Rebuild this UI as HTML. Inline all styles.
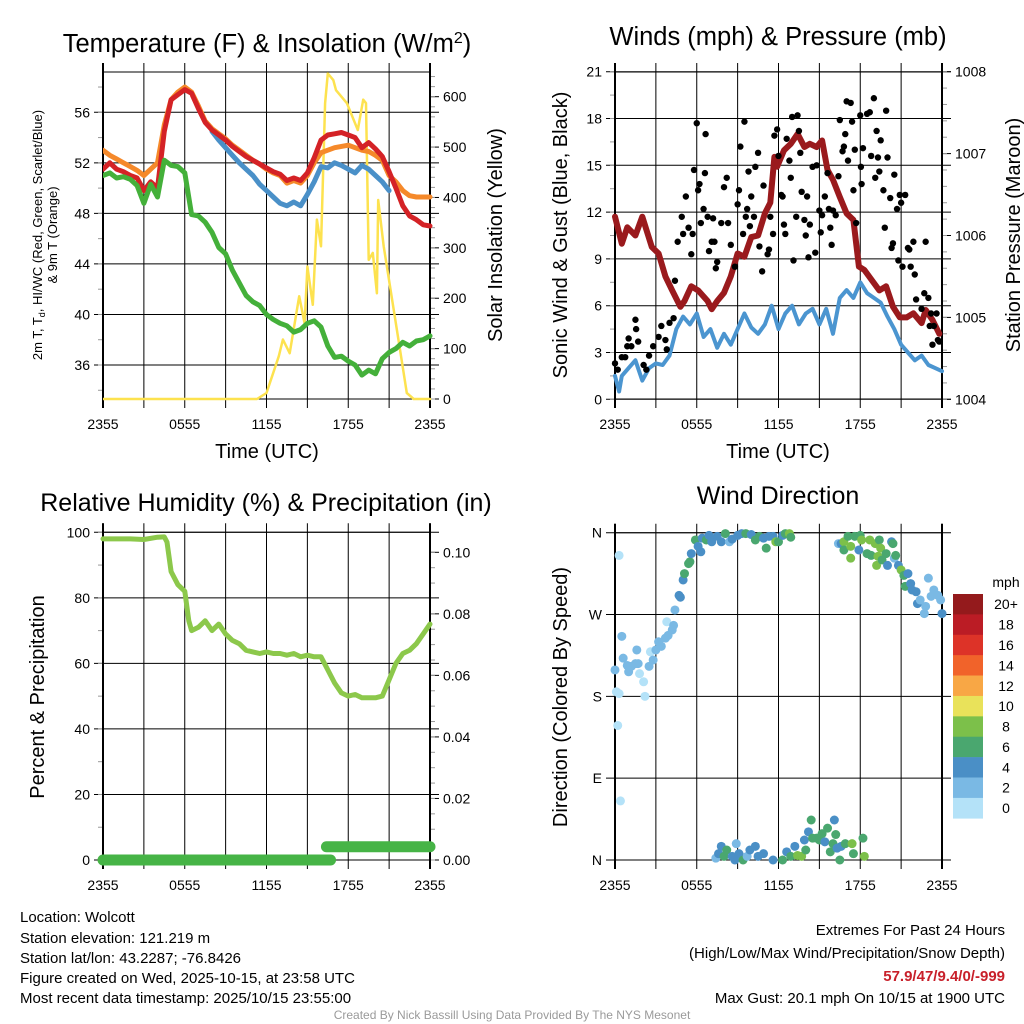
<!DOCTYPE html>
<html><head><meta charset="utf-8">
<style>
html,body{margin:0;padding:0;background:#fff;}
svg{display:block;font-family:"Liberation Sans",Arial,sans-serif;}
</style></head>
<body>
<svg id="chart" width="1024" height="1024" viewBox="0 0 1024 1024" xmlns="http://www.w3.org/2000/svg">
<g id="p1"></g>
<g id="p2"></g>
<g id="p3"></g>
<g id="p4"></g>

<text x="267" y="52" font-size="25.5" text-anchor="middle">Temperature (F) &amp; Insolation (W/m<tspan dy="-9" font-size="16">2</tspan><tspan dy="9">)</tspan></text>
<text x="778" y="45" font-size="25.5" text-anchor="middle">Winds (mph) &amp; Pressure (mb)</text>
<text x="266" y="511" font-size="25" text-anchor="middle">Relative Humidity (%) &amp; Precipitation (in)</text>
<text x="778" y="504" font-size="25" text-anchor="middle">Wind Direction</text>

<text transform="translate(42,235) rotate(-90)" font-size="13" text-anchor="middle">2m T, T<tspan font-size="9" dy="3">d</tspan><tspan dy="-3">, HI/WC (Red, Green, Scarlet/Blue)</tspan></text>
<text transform="translate(57,235) rotate(-90)" font-size="13" text-anchor="middle">&amp; 9m T (Orange)</text>
<text transform="translate(502,235) rotate(-90)" font-size="20" text-anchor="middle">Solar Insolation (Yellow)</text>
<text x="267" y="458" font-size="20" text-anchor="middle">Time (UTC)</text>
<text transform="translate(567,235) rotate(-90)" font-size="20" text-anchor="middle">Sonic Wind &amp; Gust (Blue, Black)</text>
<text transform="translate(1020,235) rotate(-90)" font-size="20" text-anchor="middle">Station Pressure (Maroon)</text>
<text x="778" y="458" font-size="20" text-anchor="middle">Time (UTC)</text>
<text transform="translate(44,697) rotate(-90)" font-size="20" text-anchor="middle">Percent &amp; Precipitation</text>
<text transform="translate(567,697) rotate(-90)" font-size="20" text-anchor="middle">Direction (Colored By Speed)</text>

<g font-size="15">
<text x="20" y="922">Location: Wolcott</text>
<text x="20" y="943">Station elevation: 121.219 m</text>
<text x="20" y="963">Station lat/lon: 43.2287; -76.8426</text>
<text x="20" y="983">Figure created on Wed, 2025-10-15, at 23:58 UTC</text>
<text x="20" y="1003">Most recent data timestamp: 2025/10/15 23:55:00</text>
</g>
<g font-size="15" text-anchor="end">
<text x="1005" y="935">Extremes For Past 24 Hours</text>
<text x="1005" y="958">(High/Low/Max Wind/Precipitation/Snow Depth)</text>
<text x="1005" y="981" fill="#c8202a" font-weight="bold">57.9/47/9.4/0/-999</text>
<text x="1005" y="1003">Max Gust: 20.1 mph On 10/15 at 1900 UTC</text>
</g>
<text x="512" y="1019" font-size="12" fill="#9a9a9a" text-anchor="middle">Created By Nick Bassill Using Data Provided By The NYS Mesonet</text>
</svg>
<script>
// ---------- data ----------
const timeTicks = ["2355","0555","1155","1755","2355"];
const hoursHalf = [0,0.5,1,1.5,2,2.5,3,3.5,4,4.5,5,5.5,6,6.5,7,7.5,8,8.5,9,9.5,10,10.5,11,11.5,12,12.5,13,13.5,14,14.5,15,15.5,16,16.5,17,17.5,18,18.5,19,19.5,20,20.5,21,21.5,22,22.5,23,23.5,24];
const tempRed = [51.5,52,51.5,51.3,51,50.8,49.8,50.5,50,54.5,57,57.4,57.8,57.5,56.3,55.2,54.6,54.2,53.8,53.3,52.9,52.5,52.2,51.9,51.6,51.3,51.1,50.6,50.8,50.6,51.2,52.4,53.8,54.2,54.3,54.4,54.2,54.0,53.2,53.6,53.1,52.5,51.3,50.0,48.6,47.8,47.5,47.1,47.0];
const tempOrange = [53,52.6,52.3,52,51.7,51.4,51,51.5,52,55,57,57.6,58,57.6,56.5,55.3,54.7,54.3,53.9,53.4,53.0,52.6,52.2,51.9,51.5,51.2,51.0,50.4,50.6,50.4,51.0,52.0,52.8,53.0,53.2,53.3,53.4,53.2,53.0,52.9,52.6,52.2,51.0,50.5,49.8,49.4,49.3,49.3,49.3];
const tempGreen = [51,51.2,50.8,50.9,50.7,50.2,48.8,50.3,49.3,52.2,51.8,51.7,51.2,47.9,47.8,47.3,46.5,45.3,44.8,43.5,42.5,41.5,41.0,40.7,40.0,39.6,39.3,39.1,38.6,38.8,39.3,39.5,39.0,37.5,36.6,36.7,36.3,36.0,35.2,35.6,35.3,36.5,37.0,37.3,37.8,37.5,37.9,38.0,38.3];
const blueHours = [8,8.5,9,9.5,10,10.5,11,11.5,12,12.5,13,13.5,14,14.5,15,15.5,16,16.5,17,17.5,18,18.5,19,19.5,20,20.5,21];
const tempBlue = [54.5,53.8,53.2,52.6,52.0,51.5,51.0,50.3,49.8,49.3,48.8,48.6,48.9,48.6,49.5,50.5,51.7,51.6,52.0,51.8,51.5,51.2,51.8,51.5,51.0,50.5,49.8];
const solarHours = [0,11.3,12,12.9,13.2,13.7,14.4,14.8,15,15.4,15.7,16,16.3,16.5,16.9,17.1,17.9,18.7,19.1,19.3,19.5,19.8,20.1,20.2,20.6,21.8,22.3,22.8,24];
const solarValues = [0,0,12,85,118,91,204,150,263,187,356,303,587,646,633,613,587,534,594,587,276,290,210,395,303,98,12,0,0];

const pressHours = [0,0.5,0.9,1.5,2,2.7,3.2,3.7,4.2,4.8,5.1,5.6,6.1,6.8,7.1,7.5,8,8.5,9,9.5,10,10.5,11,11.4,11.7,11.9,12.4,12.9,13.4,13.9,14.3,14.8,15.2,15.6,16,16.5,17,17.5,17.9,18.3,19,19.4,19.9,20.4,20.9,21.4,21.9,22.5,22.8,23.3,23.8];
const pressValues = [1006.23,1005.9,1006.1,1006.0,1006.23,1005.86,1005.78,1005.5,1005.33,1005.13,1005.2,1005.38,1005.33,1005.2,1005.1,1005.2,1005.3,1005.5,1005.78,1005.74,1005.98,1006.0,1006.27,1006.4,1006.96,1006.84,1007.04,1007.12,1007.24,1007.08,1007.12,1007.08,1007.16,1006.8,1006.68,1006.47,1006.27,1006.19,1005.62,1005.58,1005.42,1005.33,1005.38,1005.13,1005.0,1005.0,1005.05,1004.93,1005.09,1004.97,1004.8];
const windHours = [0,0.3,0.5,1,1.5,2,2.5,3,3.5,4,4.5,5,5.5,6,6.5,7,7.5,8,8.5,9,9.5,10,10.5,11,11.5,12,12.5,13,13.5,14,14.5,15,15.5,16,16.5,17,17.5,18,18.5,19,19.5,20,20.5,21,21.5,22,22.5,23,23.5,24];
const windValues = [1.5,0.5,1.5,2,2.5,1.2,2.0,2.3,2.2,2.8,4.5,5.3,4.8,5.5,4.0,4.5,3.3,4.2,3.5,4.5,5.5,4.6,4.2,4.8,6.0,4.5,5.5,6.0,4.8,5.5,5.8,4.8,5.8,4.2,6.5,7.0,6.5,7.5,6.8,6.5,6.2,5.3,4.5,3.5,3.0,2.5,2.8,2.2,2.0,1.8];
const gustHours = [0,.2,.5,.75,.9,1,1.2,1.5,1.55,1.7,2.1,2.3,2.5,2.8,3.2,3.4,3.7,3.8,4.0,4.3,4.4,4.6,4.9,5.0,5.2,5.4,5.6,5.7,5.8,6.0,6.1,6.2,6.3,6.5,6.6,6.65,6.8,6.9,7.1,7.2,7.3,7.4,7.5,7.8,8.0,8.2,8.3,8.5,8.8,9.0,9.1,9.2,9.4,9.5,9.6,9.7,9.8,9.9,10.0,10.2,10.3,10.5,10.6,10.8,10.9,11.2,11.3,11.4,11.6,11.7,11.9,12.0,12.2,12.3,12.4,12.5,12.6,12.8,12.9,13.0,13.1,13.3,13.4,13.5,13.6,13.7,13.9,14.0,14.1,14.2,14.3,14.5,14.7,14.8,15.0,15.1,15.2,15.4,15.6,15.7,15.8,15.9,16.0,16.2,16.4,16.5,16.7,16.8,16.9,17.0,17.1,17.3,17.4,17.5,17.6,17.7,18.0,18.05,18.1,18.2,18.5,18.7,18.8,19.0,19.1,19.2,19.3,19.4,19.5,19.7,19.8,19.9,20.0,20.2,20.3,20.4,20.5,20.7,20.8,20.9,21.0,21.1,21.3,21.5,21.6,21.7,21.9,22.0,22.1,22.5,22.7,22.8,23.0,23.1,23.2,23.3,23.4,23.6,23.7,23.8];
const gustValues = [2.3,1.9,2.7,2.7,3.4,3.9,3.4,5.1,4.5,3.7,2.2,1.9,2.8,3.4,4.0,4.7,3.8,3.2,4.9,5.2,7.6,10.1,11.7,10.6,13.0,11.0,9.3,10.6,14.7,17.7,13.4,13.8,11.3,12.2,14.5,17.0,11.7,9.5,10.1,11.6,10.1,8.4,8.8,11.3,13.6,14.2,11.3,9.9,8.5,12.5,13.4,16.2,10.6,17.8,11.7,12.2,14.6,11.1,13.0,11.7,14.9,15.8,9.8,8.2,13.7,9.3,9.6,11.7,10.6,16.9,17.3,15.6,13.1,13.0,11.2,10.6,16.7,15.3,14.2,18.1,8.9,11.7,18.2,17.2,15.8,13.3,11.5,10.5,13.0,9.1,11.2,14.9,9.4,15.0,12.1,10.7,11.8,13.0,14.5,12.2,11.0,9.9,12.1,11.8,14.3,17.9,15.9,16.2,17.0,19.1,15.3,19.0,17.8,13.4,16.0,11.3,18.2,14.9,13.8,16.1,18.3,18.4,15.6,19.3,14.2,17.2,15.5,14.6,16.6,13.4,11.0,18.5,15.5,12.9,9.7,10.0,14.4,12.2,8.9,13.1,12.6,8.5,13.1,9.7,9.6,8.5,10.1,8.0,6.4,5.8,6.8,10.1,6.5,4.7,5.5,3.5,4.7,5.5,3.8,3.7];

const rhHours = [0,1,2,3,4,4.5,4.7,5,5.5,6,6.3,6.5,7,7.5,8,8.5,9,9.5,10,10.5,11,11.5,12,12.5,13,13.5,14,14.5,15,15.5,16,16.5,17,17.5,18,18.5,19,20,20.5,21,21.5,22,22.5,23,23.5,24];
const rhValues = [98,98,98,97.8,98.5,98.6,97,88,84,82,73,70,71,73,70,72,69,67,66,64,63.5,63,63.5,63,63,62.5,63,62,62.5,62,62,58,54,51,50,50.5,49.5,49.5,50,55,60,63,64,66,69,72];
const precipStart = [0,16.4];
const precipEnd = [16.7,24];
const precipValues = [0,0.0043];

const dirHours = [0.3,0.5,0,0.1,0.3,0.2,0.4,0.6,0.9,1.0,1.2,1.5,1.6,1.7,1.8,2.1,2.2,2.5,2.6,2.8,3.0,3.2,3.4,3.7,3.8,3.9,4.2,4.3,4.4,4.7,4.8,5.0,5.1,5.4,5.5,5.6,5.9,6.1,6.3,6.4,6.7,6.9,7.1,7.5,7.8,8.1,8.4,8.6,9.0,9.3,9.6,10.0,10.3,10.6,10.9,11.1,11.3,11.6,11.8,12.0,12.3,12.5,12.8,12.9,
16.4,16.6,16.8,16.8,17.1,17.3,17.3,17.6,17.9,18.0,18.1,18.5,18.7,18.8,19.1,19.2,19.3,19.4,19.5,19.6,19.9,20.0,20.3,20.4,20.5,20.6,20.8,21.0,21.2,21.3,21.5,21.7,21.8,22.1,22.2,22.4,22.7,22.8,23.0,23.2,23.4,23.7,23.9,24,
7.4,7.6,7.8,8.0,8.2,8.6,8.8,8.9,9.1,9.4,9.7,9.9,10.3,10.5,10.9,11.6,12.3,12.6,12.9,13.2,13.4,13.7,13.9,14.0,14.2,14.4,14.5,14.8,15.0,15.2,15.4,15.6,15.8,16.0,16.1,16.2,16.3,16.5,16.6,16.9,17.4,17.5,18.2,18.3];
const dirDegrees = [335,246,209,185,183,148,65,222,214,207,213,216,231,216,205,196,180,213,229,220,231,240,235,244,262,247,253,258,275,291,289,308,315,326,328,337,352,345,339,354,352,357,350,356,350,359,350,353,357,359,359,358,352,356,354,343,356,356,350,350,357,359,359,355,
348,348,350,341,356,345,332,356,341,357,352,337,352,335,348,324,334,352,343,330,337,324,350,348,332,335,324,319,313,301,315,304,297,295,282,286,271,279,310,290,297,291,286,271,
2,7,15,4,11,4,0,18,7,0,4,11,15,4,7,0,0,9,4,15,5,4,22,11,31,44,24,24,22,29,20,35,9,18,44,28,13,0,15,18,18,7,24,4];
const dirSpeeds = [1,3,3,1,1,1,1,3,3,3,3,3,3,3,1,1,1,3,1,3,3,3,3,3,1,3,3,3,3,5,5,5,7,7,7,5,7,5,5,5,7,5,5,5,5,7,3,5,5,5,7,5,7,7,5,7,5,5,9,7,5,7,9,7,
3,5,9,7,7,9,9,7,5,7,9,7,9,7,9,9,9,7,9,7,7,5,5,7,3,7,5,9,7,7,5,5,5,5,5,3,3,3,3,3,3,3,3,5,
3,5,5,7,7,5,5,3,5,7,3,5,5,5,5,5,7,5,7,5,9,9,5,7,5,7,7,7,7,7,5,7,7,7,5,7,5,7,5,7,9,7,7,9];
const speedBins = ["0","2","4","6","8","10","12","14","16","18","20+"];
const speedColors = ["#b4e2f8","#7ab9e4","#4a8fc6","#4aa76f","#7cc04a","#e9e25a","#f8a745","#f1632a","#dd3328","#bb1c25","#941a1c"];

// ---------- helpers ----------
const NS = "http://www.w3.org/2000/svg";
function mk(parent, tag, attrs) {
  const e = document.createElementNS(NS, tag);
  for (const k in attrs) e.setAttribute(k, attrs[k]);
  parent.appendChild(e);
  return e;
}
function txt(parent, x, y, s, size, anchor) {
  const t = mk(parent, "text", {x: x, y: y, "font-size": size, "text-anchor": anchor});
  t.textContent = s;
  return t;
}
function xScale(x0, x1) { return h => x0 + (x1 - x0) * h / 24; }
function lin(d0, d1, p0, p1) { return v => p0 + (p1 - p0) * (v - d0) / (d1 - d0); }
function pathFrom(xs, ys, fx, fy) {
  let d = "";
  for (let i = 0; i < xs.length; i++) d += (i ? "L" : "M") + fx(xs[i]).toFixed(1) + "," + fy(ys[i]).toFixed(1);
  return d;
}

function frame(g, x0, x1, y0, y1, fx, leftTicks, fy, leftMinor, rightTicks, fr, rightMinor, xLabels) {
  for (let i = 0; i <= 8; i++) {
    const x = fx(i * 3);
    const l = mk(g, "line", {x1: x, x2: x, y1: y0 - 9, y2: y1 + 9, stroke: "#000", "stroke-width": 1});
    
    
  }
  leftTicks.forEach(t => {
    const y = fy(t.v);
    const l = mk(g, "line", {x1: x0 - 9, x2: x1 + 9, y1: y, y2: y, stroke: "#000", "stroke-width": 1});
    
    
    const tl = txt(g, x0 - 13, y + 5, t.s, 14, "end");
    
    
  });
  leftMinor.forEach(v => mk(g, "line", {x1: x0 - 5, x2: x0, y1: fy(v), y2: fy(v), stroke: "#999", "stroke-width": 1}));
  if (rightTicks) {
    rightTicks.forEach(t => {
      const y = fr(t.v);
      mk(g, "line", {x1: x1, x2: x1 + 9, y1: y, y2: y, stroke: "#000", "stroke-width": 1});
      const tl = txt(g, x1 + 13, y + 5, t.s, 14, "start");
      
      
    });
    rightMinor.forEach(v => mk(g, "line", {x1: x1, x2: x1 + 5, y1: fr(v), y2: fr(v), stroke: "#999", "stroke-width": 1}));
  }
  mk(g, "line", {x1: x0, x2: x0, y1: y0 - 9, y2: y1 + 9, stroke: "#000", "stroke-width": 2});
  mk(g, "line", {x1: x1, x2: x1, y1: y0 - 9, y2: y1 + 9, stroke: "#000", "stroke-width": 2});
  mk(g, "line", {x1: x0, x2: x1, y1: y0, y2: y0, stroke: "#000", "stroke-width": 1});
  mk(g, "line", {x1: x0, x2: x1, y1: y1, y2: y1, stroke: "#000", "stroke-width": 1});
  xLabels.forEach((s, i) => {
    const tl = txt(g, fx(i * 6), y1 + 30, s, 14, "middle");
    
    
  });
}
function range(a, b, s) { const r = []; for (let v = a; v <= b + 1e-9; v += s) r.push(+v.toFixed(4)); return r; }

// ---------- panel 1 ----------
(function () {
  const g = document.getElementById("p1");
  const x0 = 103, x1 = 430, y0 = 72, y1 = 399;
  const fx = xScale(x0, x1);
  const fy = lin(36, 56, 365, 112.3);
  const fr = lin(0, 600, 399, 96.7);
  const lt = [36,40,44,48,52,56].map(v => ({v: v, s: String(v)}));
  const rt = [0,100,200,300,400,500,600].map(v => ({v: v, s: String(v)}));
  frame(g, x0, x1, y0, y1, fx, lt, fy, range(34, 58, 2), rt, fr, range(0, 640, 20), timeTicks);
  const cp = mk(g, "clipPath", {id: "c1"}); mk(cp, "rect", {x: x0, y: y0 - 4, width: x1 - x0 + 4, height: y1 - y0 + 6});
  const s = mk(g, "g", {"clip-path": "url(#c1)", fill: "none", "stroke-linejoin": "round", "stroke-linecap": "round"});
  let p;
  p = mk(s, "path", {d: pathFrom(solarHours, solarValues, fx, fr), stroke: "#fde24f", "stroke-width": 2.5});
   
  p = mk(s, "path", {d: pathFrom(blueHours, tempBlue, fx, fy), stroke: "#4a90c8", "stroke-width": 5});
   
  p = mk(s, "path", {d: pathFrom(hoursHalf, tempOrange, fx, fy), stroke: "#f5892a", "stroke-width": 5});
   
  p = mk(s, "path", {d: pathFrom(hoursHalf, tempRed, fx, fy), stroke: "#d42226", "stroke-width": 5});
   
  p = mk(s, "path", {d: pathFrom(hoursHalf, tempGreen, fx, fy), stroke: "#44b03a", "stroke-width": 5});
   
})();

// ---------- panel 2 ----------
(function () {
  const g = document.getElementById("p2");
  const x0 = 615, x1 = 942, y0 = 72, y1 = 399;
  const fx = xScale(x0, x1);
  const fy = lin(0, 21, 399.3, 71.7);
  const fr = lin(1004, 1008, 399.3, 71.7);
  const lt = [0,3,6,9,12,15,18,21].map(v => ({v: v, s: String(v)}));
  const rt = [1004,1005,1006,1007,1008].map(v => ({v: v, s: String(v)}));
  frame(g, x0, x1, y0, y1, fx, lt, fy, range(0, 21, 1.5), rt, fr, range(1004, 1008, 0.2), timeTicks);
  const s = mk(g, "g", {fill: "none", "stroke-linejoin": "round", "stroke-linecap": "round"});
  let p = mk(s, "path", {d: pathFrom(windHours, windValues, fx, fy), stroke: "#4b95d0", "stroke-width": 4});
   
  const dots = mk(g, "g", {fill: "#000"});
   
  gustHours.forEach((h, i) => {
    const c = mk(dots, "circle", {cx: fx(h), cy: fy(gustValues[i]), r: 3.2});
    
    
  });
  p = mk(s, "path", {d: pathFrom(pressHours, pressValues, fx, fr), stroke: "#9a1a1d", "stroke-width": 6});
   
})();

// ---------- panel 3 ----------
(function () {
  const g = document.getElementById("p3");
  const x0 = 103, x1 = 430, y0 = 532.3, y1 = 860;
  const fx = xScale(x0, x1);
  const fy = lin(0, 100, 860, 532.3);
  const fr = lin(0, 0.1, 860, 552.3);
  const lt = [0,20,40,60,80,100].map(v => ({v: v, s: String(v)}));
  const rt = [0,0.02,0.04,0.06,0.08,0.1].map(v => ({v: v, s: v.toFixed(2)}));
  frame(g, x0, x1, y0, y1, fx, lt, fy, range(0, 100, 10), rt, fr, range(0, 0.104, 0.005), timeTicks);
  const s = mk(g, "g", {fill: "none", "stroke-linejoin": "round", "stroke-linecap": "round"});
  let p = mk(s, "path", {d: pathFrom(rhHours, rhValues, fx, fy), stroke: "#8cc84b", "stroke-width": 5});
   
  precipValues.forEach((v, i) => {
    const l = mk(s, "line", {x1: fx(precipStart[i]), x2: fx(precipEnd[i]), y1: fr(v), y2: fr(v), stroke: "#46b446", "stroke-width": 11});
    
    
  });
})();

// ---------- panel 4 ----------
(function () {
  const g = document.getElementById("p4");
  const x0 = 615, x1 = 942, y0 = 532.7, y1 = 860;
  const fx = xScale(x0, x1);
  const fy = lin(0, 360, 860, 532.7);
  const lt = [{v:0,s:"N"},{v:90,s:"E"},{v:180,s:"S"},{v:270,s:"W"},{v:360,s:"N"}];
  frame(g, x0, x1, y0, y1, fx, lt, fy, [], null, null, null, timeTicks);
  const dots = mk(g, "g", {});
   
  dirHours.forEach((h, i) => {
    const bin = Math.min(10, Math.floor(dirSpeeds[i] / 2));
    const c = mk(dots, "circle", {cx: fx(h), cy: fy(dirDegrees[i]), r: 4.5, fill: speedColors[bin]});
    
    
  });
  const cb = mk(document.getElementById("chart"), "g", {});
   
  const cbTop = 594, bh = (818.3 - 594) / speedBins.length;
  for (let i = 0; i < speedBins.length; i++) {
    const k = speedBins.length - 1 - i;
    const r = mk(cb, "rect", {x: 953, y: cbTop + i * bh, width: 30, height: bh + 0.3, fill: speedColors[k]});
    
    
    const t = txt(cb, 1006, cbTop + i * bh + bh / 2 + 5, speedBins[k], 14, "middle");
    
    
  }
  const m = txt(cb, 1006, 587, "mph", 14, "middle");
  
  
})();
</script>
</body></html>
